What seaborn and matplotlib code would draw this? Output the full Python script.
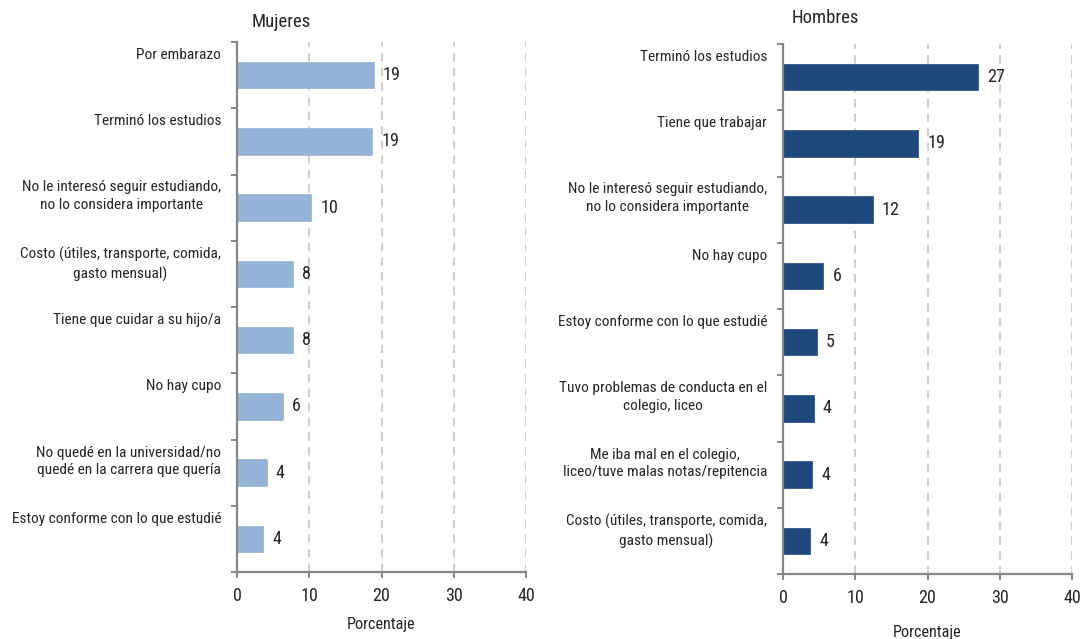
import matplotlib
matplotlib.use("Agg")
import matplotlib.pyplot as plt
from matplotlib.font_manager import fontManager
import seaborn as sns
import pandas as pd
import numpy as np

# ---- data ----
mujeres_cats = [
    "Por embarazo",
    "Terminó los estudios",
    "No le interesó seguir estudiando,\nno lo considera importante",
    "Costo (útiles, transporte, comida,\ngasto mensual)",
    "Tiene que cuidar a su hijo/a",
    "No hay cupo",
    "No quedé en la universidad/no\nquedé en la carrera que quería",
    "Estoy conforme con lo que estudié",
]
mujeres_vals = [18.9, 18.7, 10.3, 7.8, 7.7, 6.4, 4.1, 3.6]

hombres_cats = [
    "Terminó los estudios",
    "Tiene que trabajar",
    "No le interesó seguir estudiando,\nno lo considera importante",
    "No hay cupo",
    "Estoy conforme con lo que estudié",
    "Tuvo problemas de conducta en el\ncolegio, liceo",
    "Me iba mal en el colegio,\nliceo/tuve malas notas/repitencia",
    "Costo (útiles, transporte, comida,\ngasto mensual)",
]
hombres_vals = [27.0, 18.7, 12.4, 5.6, 4.7, 4.25, 4.05, 3.8]

x_ticks = [0, 10, 20, 30, 40]
titles = ["Mujeres", "Hombres"]
xlabel = "Porcentaje"
colors = ["#95B3D7", "#1F497D"]

# ---- style ----
sns.set_theme(style="white")
names = {f.name for f in fontManager.ttflist}
font = "DejaVu Sans"
for cand in ["Liberation Sans Narrow", "Roboto Condensed", "Open Sans Condensed",
             "Lato", "Liberation Sans"]:
    if cand in names:
        font = cand
        break
plt.rcParams["font.family"] = [font, "DejaVu Sans"]

W, H = 1090, 639
fig = plt.figure(figsize=(W / 100, H / 100), dpi=100)

# pick a font size so that the long label has the reference width (~209 px)
renderer = fig.canvas.get_renderer()
probe = fig.text(0, 0, "Estoy conforme con lo que estudié", fontsize=10)
pw = probe.get_window_extent(renderer=renderer).width
probe.remove()
fs = min(11.5, 10 * 209 / pw)
fs_title = fs * 1.22
fs_num = fs * 1.18

# axes boxes in pixels: (left, top, right, bottom)
boxes = [(237, 42, 526, 572), (783, 44, 1072, 574)]
title_pos = [(281, 27), (825, 23)]
xlabel_pad = [9, 13]
spine_col = "#868686"

for k, (cats, vals) in enumerate([(mujeres_cats, mujeres_vals), (hombres_cats, hombres_vals)]):
    l, t, r, b = boxes[k]
    ax = fig.add_axes([l / W, 1 - b / H, (r - l) / W, (b - t) / H])
    df = pd.DataFrame({"cat": cats, "val": vals})
    sns.barplot(data=df, x="val", y="cat", orient="h", color=colors[k],
                width=0.4, ax=ax, saturation=1, edgecolor=colors[k], linewidth=0.5)
    ax.set_xlim(0, 40)
    ax.set_ylim(len(cats) - 0.5, -0.5)
    ax.set_xticks(x_ticks)
    ax.set_xticklabels([str(v) for v in x_ticks], fontsize=fs_num)
    ax.set_yticks(np.arange(-0.5, len(cats), 1.0))
    ax.set_yticklabels([])
    ax.set_ylabel("")
    ax.set_xlabel(xlabel, fontsize=fs * 1.05, labelpad=xlabel_pad[k])
    for s in ["top", "right"]:
        ax.spines[s].set_visible(False)
    for s in ["left", "bottom"]:
        ax.spines[s].set_color(spine_col)
        ax.spines[s].set_linewidth(1.6)
    ax.tick_params(axis="both", direction="out", color=spine_col, width=1.4, length=4.5,
                   left=True, bottom=True)
    ax.tick_params(axis="x", pad=6)
    for xv in x_ticks[1:]:
        ax.axvline(xv, color="#D0D0D0", lw=1.5, ls=(0, (4, 3)), zorder=0)
    # value labels
    ax.bar_label(ax.containers[0], labels=[f"{v:.0f}" for v in vals],
                 padding=6.5, fontsize=fs_num)
    # category labels
    for i, c in enumerate(cats):
        ax.annotate(c, xy=(0, i - 0.5), xycoords=("axes fraction", "data"),
                    xytext=(-16, -6), textcoords="offset pixels",
                    ha="right", va="top", multialignment="center",
                    fontsize=fs, linespacing=1.35)
    fig.text(title_pos[k][0] / W, 1 - title_pos[k][1] / H, titles[k],
             ha="center", va="baseline", fontsize=fs_title)

fig.savefig("out.png", dpi=100)
